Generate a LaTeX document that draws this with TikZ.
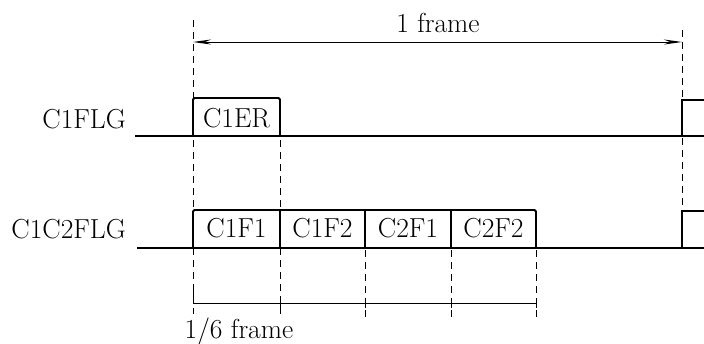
\documentclass[tikz,border=0pt]{standalone}
\usepackage{fontspec}
\usetikzlibrary{arrows.meta}
\begin{document}
\begin{tikzpicture}[x=1pt,y=-1pt,
  sig/.style={line width=1.8pt,rounded corners=1.5pt},
  guide/.style={line width=1pt,dash pattern=on 7pt off 5pt},
  dim/.style={line width=1pt},
  lbl/.style={font=\fontsize{27.5}{30}\selectfont\addfontfeatures{LetterSpace=3},inner sep=0pt},
  every node/.style={lbl}]
\useasboundingbox (0,0) rectangle (704,343);
% guide lines
\draw[guide] (193,20) -- (193,314);
\draw[guide] (280,140) -- (280,314);
\draw[guide] (365,250) -- (365,318);
\draw[guide] (451,250) -- (451,318);
\draw[guide] (536,250) -- (536,318);
\draw[guide] (682,30) -- (682,205);
% 1 frame
\coordinate (fl) at (193,42);
\coordinate (fr) at (682,42);
\draw[dim,{Stealth[length=18pt,width=5pt]}-{Stealth[length=18pt,width=5pt]}] (fl) -- (fr);
\node[anchor=base] (frame) at (438,32) {1 frame};
% C1FLG
\node[anchor=base east] (c1flg) at (126,128) {C1FLG};
\draw[sig,rounded corners=0pt] (135,136) -- (704,136);
\draw[sig] (193,136) -- (193,98) -- (280,98) -- (280,136);
\draw[sig,rounded corners=0pt] (682,136) -- (682,100) -- (704,100);
\node[anchor=base] (c1er) at (236.5,127) {C1ER};
% C1C2FLG
\node[anchor=base east] (c1c2flg) at (126,238) {C1C2FLG};
\draw[sig,rounded corners=0pt] (137,248) -- (704,248);
\draw[sig] (193,248) -- (193,210) -- (536,210) -- (536,248);
\draw[sig] (280,210) -- (280,248);
\draw[sig] (365,210) -- (365,248);
\draw[sig] (451,210) -- (451,248);
\draw[sig,rounded corners=0pt] (682,248) -- (682,211) -- (704,211);
\node[anchor=base] (c1f1) at (236.5,237) {C1F1};
\node[anchor=base] (c1f2) at (322.5,237) {C1F2};
\node[anchor=base] (c2f1) at (408,237) {C2F1};
\node[anchor=base] (c2f2) at (493.5,237) {C2F2};
% 1/6 frame
\coordinate (sl) at (193,303);
\coordinate (sr) at (536,303);
\draw[dim] (193,290) -- (sl) -- (sr) -- (536,308);
\foreach \x in {280,365,451} \draw[dim] (\x,298) -- (\x,308);
\node[anchor=base] (sixth) at (239,338) {1/6 frame};
\end{tikzpicture}
\end{document}
